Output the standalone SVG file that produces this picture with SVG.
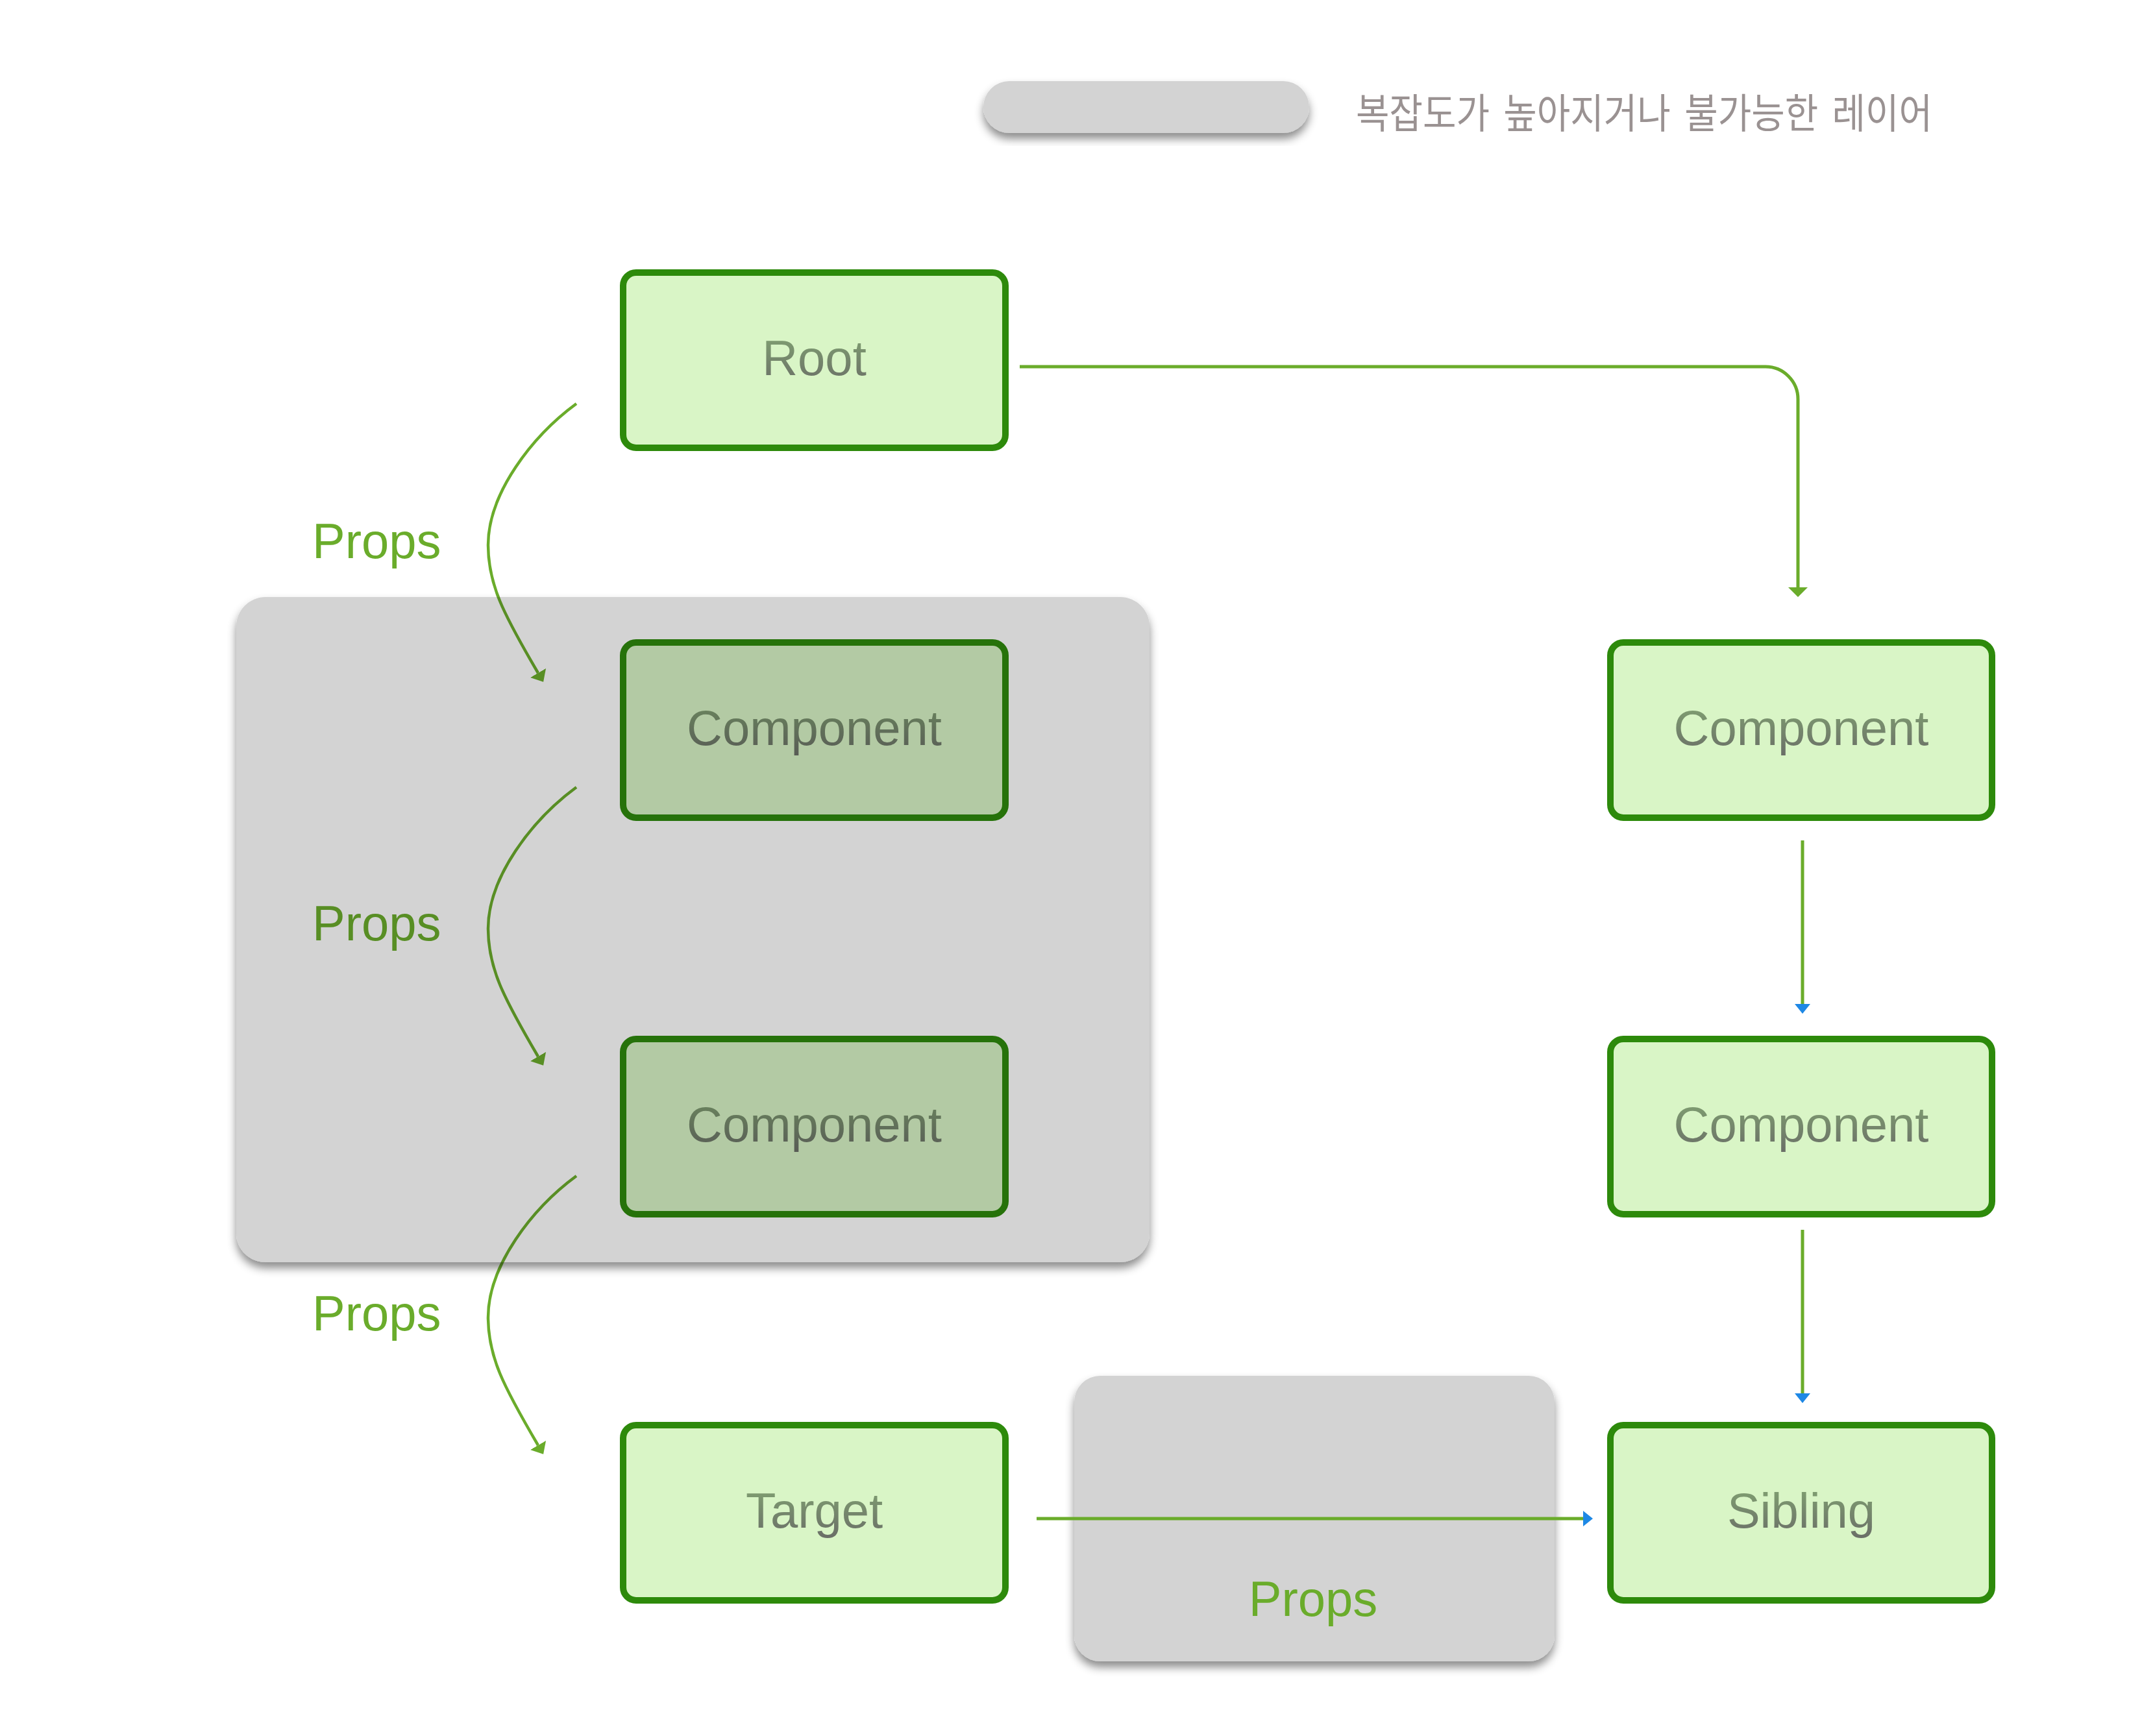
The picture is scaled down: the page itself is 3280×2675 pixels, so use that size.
<svg xmlns="http://www.w3.org/2000/svg" width="3280" height="2675" viewBox="0 0 3280 2675">
<defs>
<style>
.node rect{fill:#d9f5c6;stroke:#2d8a0b;stroke-width:10}
.label{font-family:"Liberation Sans",Arial,Helvetica,sans-serif;font-size:76px;text-anchor:middle;fill:url(#txt)}
.props{font-family:"Liberation Sans",Arial,Helvetica,sans-serif;font-size:76px;fill:#6aac2b}
.conn path{fill:none;stroke:#6aac2b}
.curve{stroke-width:4.5}
.straight{stroke-width:5}
.layer{fill:#d3d3d3;filter:url(#shadow)}
.legend-text{font-family:"Noto Sans CJK KR","Noto Sans",sans-serif;font-size:63px;word-spacing:10px;fill:#9a9292}
</style>
<linearGradient id="txt" x1="0" y1="0" x2="0" y2="1">
<stop offset="0" stop-color="#82a472"/>
<stop offset="1" stop-color="#6a6e67"/>
</linearGradient>
<filter id="shadow" x="-10%" y="-10%" width="120%" height="135%">
<feDropShadow dx="0" dy="9" stdDeviation="7" flood-color="#000" flood-opacity="0.45"/>
</filter>
<marker id="ahGreen" markerUnits="userSpaceOnUse" markerWidth="16" markerHeight="32" viewBox="0 0 16 32" refX="0" refY="16" orient="auto">
<path d="M0,1 L15,16 L0,31 z" fill="#6aac2b"/>
</marker>
<marker id="ahCurve" markerUnits="userSpaceOnUse" markerWidth="18" markerHeight="30" viewBox="0 0 18 30" refX="0" refY="15" orient="auto">
<path d="M0,1 L16,15 L0,29 z" fill="#6aac2b"/>
</marker>
<marker id="ahBlue" markerUnits="userSpaceOnUse" markerWidth="16" markerHeight="26" viewBox="0 0 16 26" refX="0" refY="13" orient="auto">
<path d="M0,1 L15,13 L0,25 z" fill="#1e88e5"/>
</marker>
</defs>

<rect width="3280" height="2675" fill="#ffffff"/>

<g id="legend">
<rect class="layer" x="1515" y="125" width="502" height="80" rx="40" ry="40"/>
<text class="legend-text" x="2089" y="197" textLength="888" lengthAdjust="spacingAndGlyphs">복잡도가 높아지거나 불가능한 레이어</text>
</g>

<g id="layer-props">
<rect class="layer" x="1655" y="2120" width="740" height="440" rx="40" ry="40"/>
</g>

<g id="node-root" class="node">
<rect x="960" y="420" width="589" height="270" rx="20" ry="20"/>
<text class="label" x="1254.5" y="578">Root</text>
</g>
<g id="node-component-left-1" class="node">
<rect x="960" y="990" width="589" height="270" rx="20" ry="20"/>
<text class="label" x="1254.5" y="1148">Component</text>
</g>
<g id="node-component-left-2" class="node">
<rect x="960" y="1601" width="589" height="270" rx="20" ry="20"/>
<text class="label" x="1254.5" y="1759">Component</text>
</g>
<g id="node-target" class="node">
<rect x="960" y="2196" width="589" height="270" rx="20" ry="20"/>
<text class="label" x="1254.5" y="2354">Target</text>
</g>
<g id="node-component-right-1" class="node">
<rect x="2481" y="990" width="588" height="270" rx="20" ry="20"/>
<text class="label" x="2775" y="1148">Component</text>
</g>
<g id="node-component-right-2" class="node">
<rect x="2481" y="1601" width="588" height="270" rx="20" ry="20"/>
<text class="label" x="2775" y="1759">Component</text>
</g>
<g id="node-sibling" class="node">
<rect x="2481" y="2196" width="588" height="270" rx="20" ry="20"/>
<text class="label" x="2775" y="2354">Sibling</text>
</g>

<g id="connectors" class="conn">
<path class="curve" d="M888,622 C820,672 752,760 752,840 C752,900 775,945 829,1037" marker-end="url(#ahCurve)"/>
<path class="curve" d="M888,1213 C820,1263 752,1351 752,1431 C752,1491 775,1536 829,1628" marker-end="url(#ahCurve)"/>
<path class="curve" d="M888,1812 C820,1862 752,1950 752,2030 C752,2090 775,2135 829,2227" marker-end="url(#ahCurve)"/>
<path class="straight" d="M1571,565 H2720 A50,50 0 0 1 2770,615 V905" marker-end="url(#ahGreen)"/>
<path class="straight" d="M2777,1295 V1547" marker-end="url(#ahBlue)"/>
<path class="straight" d="M2777,1895 V2147" marker-end="url(#ahBlue)"/>
<path class="straight" d="M1597,2340 H2439" marker-end="url(#ahBlue)"/>
</g>

<g id="labels">
<text class="props" x="481" y="860">Props</text>
<text class="props" x="481" y="1449">Props</text>
<text class="props" x="481" y="2050">Props</text>
<text class="props" x="2023" y="2490" text-anchor="middle">Props</text>
</g>

<g id="layer-complex" style="mix-blend-mode:multiply">
<rect class="layer" x="364" y="920" width="1407" height="1025" rx="45" ry="45"/>
</g>
</svg>
